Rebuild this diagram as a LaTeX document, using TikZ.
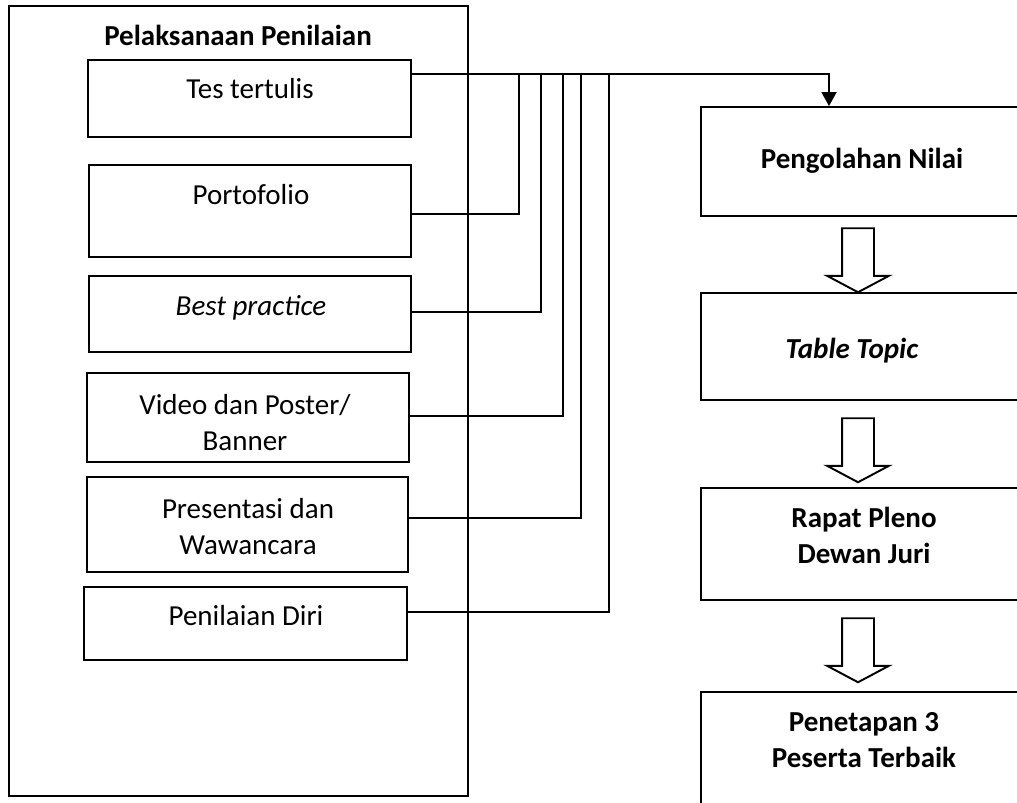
\documentclass[tikz,border=0pt]{standalone}
\usepackage{fontspec}
\setmainfont{Carlito}
\usetikzlibrary{arrows.meta, positioning, shapes.arrows}

\newcommand{\diagfont}{\fontsize{16.5}{20}\selectfont}

\begin{document}
\begin{tikzpicture}[x=0.02cm, y=-0.02cm, line width=1.1pt, >={Triangle[length=0.28cm, width=0.3cm]}]
  % Gaya kotak, teks dan panah
  \tikzstyle{box} = [draw, rectangle, inner sep=0pt]
  \tikzstyle{txt} = [anchor=base, align=center, inner sep=0pt, font=\diagfont]
  \tikzstyle{btxt} = [txt, font=\diagfont\bfseries]
  \tikzstyle{hollow} = [draw, single arrow, rotate=-90, inner xsep=0pt, inner ysep=0.3cm,
    minimum height=1.28cm, minimum width=1.2cm, single arrow head extend=0.3cm,
    single arrow tip angle=124]

  \useasboundingbox (0,0) rectangle (1017,802);
  \clip (0,0) rectangle (1017,802);

  % Kotak pelaksanaan penilaian
  \node [box, minimum width=9.18cm, minimum height=15.8cm] (outer) at (238.5,401) {};
  \node [btxt] (title) at (238,45) {Pelaksanaan Penilaian};
  \node [box, minimum width=6.46cm, minimum height=1.54cm] (tes) at (249.5,98.5) {};
  \node [box, minimum width=6.44cm, minimum height=1.84cm] (porto) at (250,211) {};
  \node [box, minimum width=6.44cm, minimum height=1.52cm] (best) at (250,314) {};
  \node [box, minimum width=6.44cm, minimum height=1.78cm] (video) at (248,417.5) {};
  \node [box, minimum width=6.42cm, minimum height=1.9cm] (pres) at (247.5,524.5) {};
  \node [box, minimum width=6.46cm, minimum height=1.46cm] (diri) at (245.5,623.5) {};
  % (base = baris terakhir)
  \node [txt] (tesText) at (250,98) {Tes tertulis};
  \node [txt] (portoText) at (251,204) {Portofolio};
  \node [txt] (bestText) at (251,315) {\itshape Best practice};
  \node [txt] (videoText) at (245,450) {Video dan Poster/\\Banner};
  \node [txt] (presText) at (248,554) {Presentasi dan\\Wawancara};
  \node [txt] (diriText) at (246,625) {Penilaian Diri};

  % Kotak tahap berikutnya
  \node [box, minimum width=6.44cm, minimum height=2.18cm] (olah) at (862,161.5) {};
  \node [box, minimum width=6.44cm, minimum height=2.14cm] (topic) at (862,346.5) {};
  \node [box, minimum width=6.44cm, minimum height=2.24cm] (pleno) at (862,544) {};
  \node [box, minimum width=6.44cm, minimum height=2.3cm] (tetap) at (862,749.5) {};
  \node [btxt] (olahText) at (862,168) {Pengolahan Nilai};
  \node [btxt] (topicText) at (852,358) {\itshape Table Topic};
  \node [btxt] (plenoText) at (864,563) {Rapat Pleno\\Dewan Juri};
  \node [btxt] (tetapText) at (864,767) {Penetapan 3\\Peserta Terbaik};

  \node [hollow] (arr1) at (858,256) {};
  \node [hollow] (arr2) at (858,446) {};
  \node [hollow] (arr3) at (858,646) {};

  % Garis penghubung
  \coordinate (bus) at (829,74);
  \draw [->] (tes.east |- bus) -| (bus |- olah.north);
  \foreach \b/\x/\y in {porto/519/214, best/541/312, video/563/416, pres/581/518, diri/609/612}
    \draw (\b.east |- 0,\y) -| (\x,74);
\end{tikzpicture}
\end{document}
